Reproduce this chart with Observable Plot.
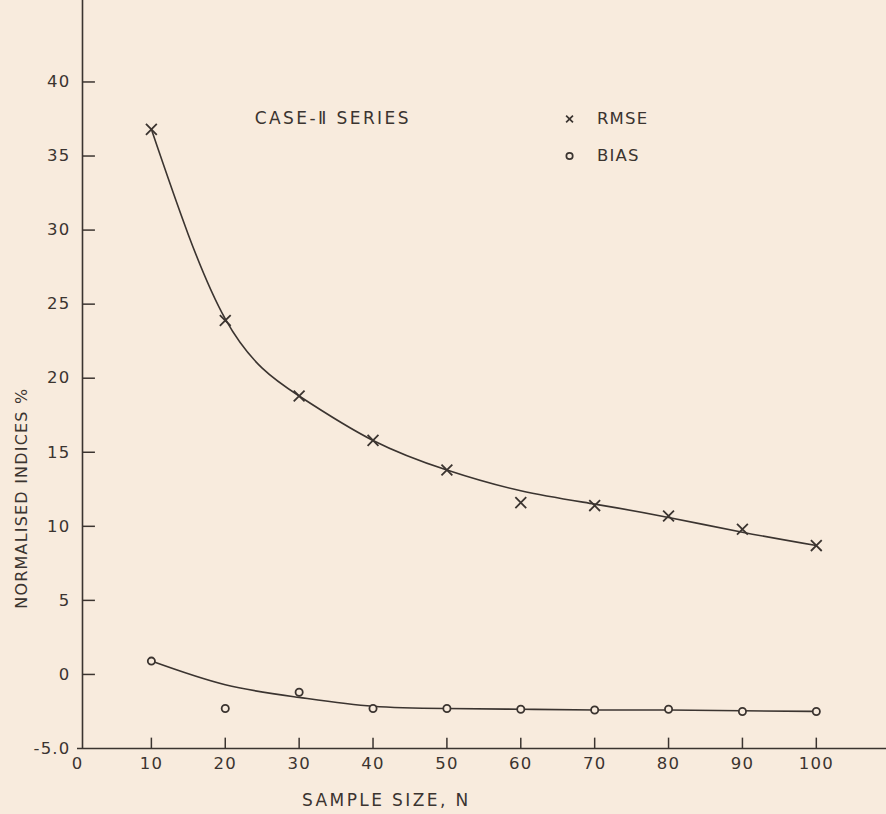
<!DOCTYPE html>
<html>
<head>
<meta charset="utf-8">
<script src="https://cdn.jsdelivr.net/npm/d3@7"></script>
<script src="https://cdn.jsdelivr.net/npm/@observablehq/plot@0.6"></script>
<style>
  html, body { margin: 0; padding: 0; background: #f8ebdd; }
  #chart svg { display: block; }
  #chart text { letter-spacing: 1.2px; }
  #chart .wide text { letter-spacing: 2.4px; }
</style>
</head>
<body>
<div id="chart"></div>
<script>
const sampleSize = [10, 20, 30, 40, 50, 60, 70, 80, 90, 100];
const rmse = [36.8, 23.9, 18.8, 15.8, 13.8, 11.6, 11.4, 10.7, 9.8, 8.7];
const bias = [0.9, -2.3, -1.2, -2.3, -2.3, -2.35, -2.4, -2.35, -2.5, -2.5];
// fitted (hand-drawn) curves
const fitN = [10, 20, 30, 40, 50, 60, 70, 80, 90, 100];
const rmseFit = [36.8, 24.0, 18.8, 15.8, 13.8, 12.4, 11.5, 10.6, 9.6, 8.7];
const biasFit = [0.9, -0.7, -1.55, -2.15, -2.3, -2.35, -2.4, -2.4, -2.45, -2.5];
const xTicks = [0, 10, 20, 30, 40, 50, 60, 70, 80, 90, 100];
const yTicks = [-5, 0, 5, 10, 15, 20, 25, 30, 35, 40];
const title = "CASE-\u2161 SERIES";
const legendLabels = ["RMSE", "BIAS"];
const xLabel = "SAMPLE SIZE, N";
const yLabel = "NORMALISED INDICES %";

const ink = "#3b3430";
const bg = "#f8ebdd";
const font = "'DejaVu Sans', sans-serif";

const pts = sampleSize.map((n, i) => ({n, rmse: rmse[i], bias: bias[i]}));
const fit = fitN.map((n, i) => ({n, rf: rmseFit[i], bf: biasFit[i]}));
const legend = [
  {label: legendLabels[0], symbol: "times", y: 37.5},
  {label: legendLabels[1], symbol: "circle", y: 35.0}
];
// tick lengths expressed in scale units (≈13 px and ≈10 px)
const yTickLen = 1.75;
const xTickLen = 0.7;

const chart = Plot.plot({
  width: 886,
  height: 814,
  marginLeft: 77,
  marginRight: 0,
  marginTop: 0,
  marginBottom: 66,
  style: {background: bg, color: ink, fontFamily: font, fontSize: "16px"},
  x: {domain: [0, 109.5], label: null},
  y: {domain: [-5, 45.5], label: null},
  marks: [
    Plot.ruleX([0], {stroke: ink, strokeWidth: 1.6, dx: 5}),
    Plot.ruleY([-5], {stroke: ink, strokeWidth: 1.6}),
    Plot.ruleY(yTicks.filter(d => d > -5), {y: d => d, x1: 0, x2: yTickLen, dx: 5, stroke: ink, strokeWidth: 1.5}),
    Plot.ruleX(xTicks.filter(d => d > 0), {x: d => d, y1: -5, y2: -5 + xTickLen, stroke: ink, strokeWidth: 1.5}),
    Plot.axisY(yTicks, {tickSize: 0, tickPadding: 7, fontSize: 16.5, fill: ink,
      tickFormat: d => d === -5 ? "-5.0" : String(d)}),
    Plot.axisX(xTicks, {anchor: "bottom", tickSize: 0, tickPadding: 9, fontSize: 16.5, fill: ink}),
    Plot.line(fit, {x: "n", y: "rf", curve: "natural", stroke: ink, strokeWidth: 1.6}),
    Plot.line(fit, {x: "n", y: "bf", curve: "natural", stroke: ink, strokeWidth: 1.6}),
    Plot.dot(pts, {x: "n", y: "rmse", symbol: "times", r: 5, stroke: ink, strokeWidth: 1.8}),
    Plot.dot(pts, {x: "n", y: "bias", symbol: "circle", r: 3.6, stroke: ink, strokeWidth: 1.8, fill: bg}),
    Plot.text([title], {x: 24, y: 37.5, text: d => d, textAnchor: "start", fontSize: 17, fill: ink, className: "wide"}),
    Plot.dot(legend, {x: 66.6, y: "y", symbol: "symbol", r: 3.2, stroke: ink, strokeWidth: 1.7}),
    Plot.text(legend, {x: 70.3, y: "y", text: "label", textAnchor: "start", fontSize: 16.5, fill: ink}),
    Plot.text([xLabel], {x: 41.8, y: -5, dy: 52, text: d => d, fontSize: 17, fill: ink, className: "wide"}),
    Plot.text([yLabel], {x: 0, y: 11.9, dx: -56, rotate: -90, text: d => d, fontSize: 16, fill: ink})
  ]
});
document.getElementById("chart").appendChild(chart);
</script>
</body>
</html>
